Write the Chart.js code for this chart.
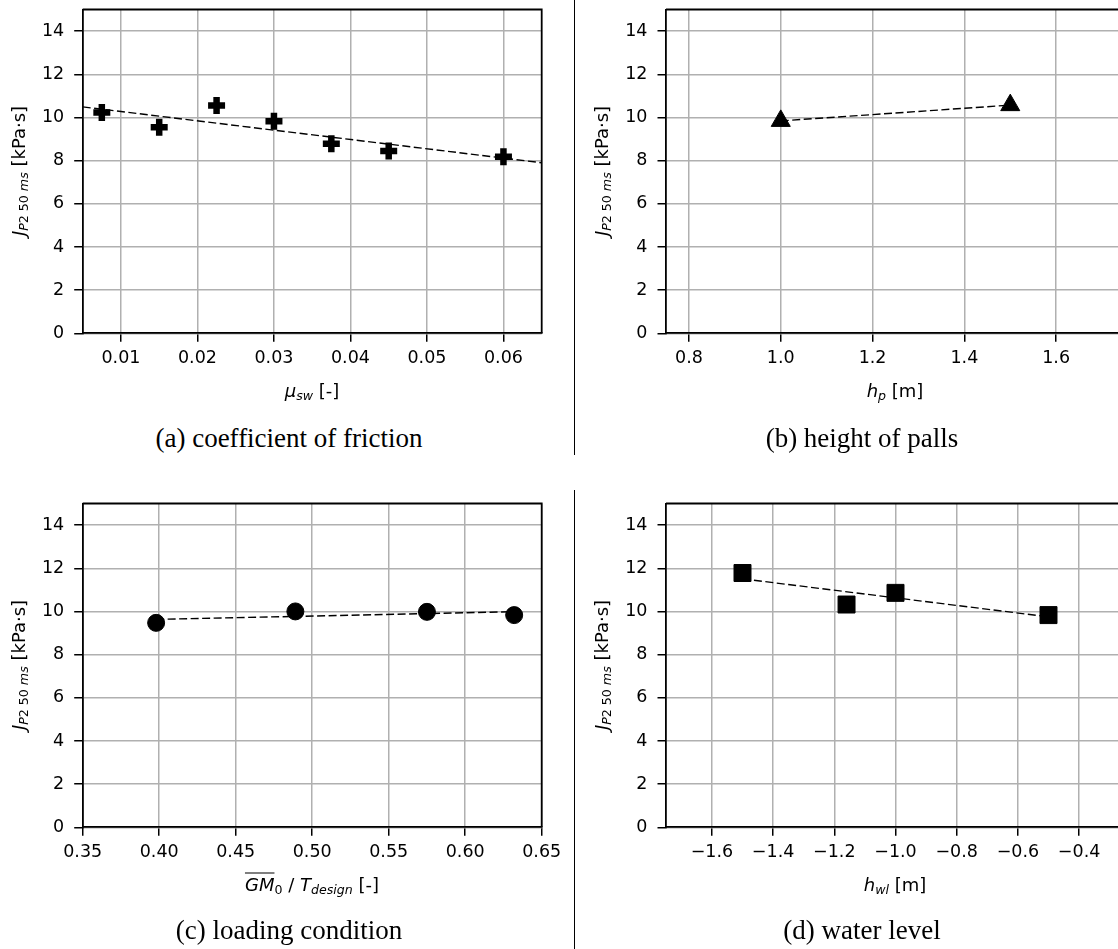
<!DOCTYPE html>
<html>
<head>
<meta charset="utf-8">
<script src="https://cdn.jsdelivr.net/npm/chart.js@4/dist/chart.umd.min.js"></script>
<style>
  html, body { margin: 0; padding: 0; background: #fff; }
  body { width: 1118px; height: 949px; overflow: hidden; position: relative; font-family: 'DejaVu Sans', sans-serif; }
  canvas { position: absolute; }
  .ytitle, .xtitle, .caption { position: absolute; white-space: nowrap; color: #000; }
  .ytitle { font-size: 18px; transform: translate(-50%, -50%) rotate(-90deg); }
  .xtitle { font-size: 18px; transform: translate(-50%, -50%); }
  .caption { font-family: 'Liberation Serif', serif; font-size: 27px; transform: translate(-50%, -50%); }
  sub { font-size: 70%; vertical-align: -0.3em; line-height: 0; }
  .sep { position: absolute; left: 574px; width: 1.3px; background: #000; }
  .ov { text-decoration: overline; }
</style>
</head>
<body>
<canvas id="ca" width="560" height="380" style="left:0;top:0"></canvas>
<canvas id="cb" width="600" height="380" style="left:560px;top:0"></canvas>
<canvas id="cc" width="560" height="380" style="left:0;top:494.4px"></canvas>
<canvas id="cd" width="600" height="380" style="left:560px;top:494.4px"></canvas>

<div class="sep" style="top:0;height:455px"></div>
<div class="sep" style="top:490px;height:459px"></div>

<div class="ytitle" style="left:18px;top:171px"><i>J</i><sub><i>P</i>2 50 <i>ms</i></sub> [kPa·s]</div>
<div class="ytitle" style="left:601px;top:171px"><i>J</i><sub><i>P</i>2 50 <i>ms</i></sub> [kPa·s]</div>
<div class="ytitle" style="left:18px;top:665px"><i>J</i><sub><i>P</i>2 50 <i>ms</i></sub> [kPa·s]</div>
<div class="ytitle" style="left:601px;top:665px"><i>J</i><sub><i>P</i>2 50 <i>ms</i></sub> [kPa·s]</div>

<div class="xtitle" style="left:312px;top:390px"><i>μ<sub>sw</sub></i> [-]</div>
<div class="xtitle" style="left:895px;top:390px"><i>h<sub>p</sub></i> [m]</div>
<div class="xtitle" style="left:312px;top:884px"><span class="ov"><i>GM</i></span><sub>0</sub> / <i>T<sub>design</sub></i> [-]</div>
<div class="xtitle" style="left:895px;top:884px"><i>h<sub>wl</sub></i> [m]</div>

<div class="caption" style="left:289px;top:438px">(a) coefficient of friction</div>
<div class="caption" style="left:862px;top:438px">(b) height of palls</div>
<div class="caption" style="left:289px;top:930px">(c) loading condition</div>
<div class="caption" style="left:862px;top:930px">(d) water level</div>

<script>
// shared y axis
const yTicks = [0, 2, 4, 6, 8, 10, 12, 14];

// (a) coefficient of friction
const fricX = [0.0075, 0.015, 0.0225, 0.03, 0.0375, 0.045, 0.06];
const fricY = [10.23, 9.55, 10.55, 9.82, 8.78, 8.45, 8.18];
const fricFitX = [0.005, 0.065];
const fricFitY = [10.49, 7.90];
const fricTicks = [0.01, 0.02, 0.03, 0.04, 0.05, 0.06];

// (b) height of palls
const pallX = [1.0, 1.5];
const pallY = [9.84, 10.57];
const pallFitX = [1.0, 1.5];
const pallFitY = [9.84, 10.57];
const pallTicks = [0.8, 1.0, 1.2, 1.4, 1.6];

// (c) loading condition
const loadX = [0.398, 0.489, 0.575, 0.632];
const loadY = [9.47, 10.0, 9.98, 9.83];
const loadFitX = [0.398, 0.632];
const loadFitY = [9.63, 9.99];
const loadTicks = [0.35, 0.40, 0.45, 0.50, 0.55, 0.60, 0.65];

// (d) water level
const waterX = [-1.5, -1.16, -1.0, -0.5];
const waterY = [11.78, 10.32, 10.86, 9.83];
const waterFitX = [-1.5, -0.5];
const waterFitY = [11.51, 9.75];
const waterTicks = [-1.6, -1.4, -1.2, -1.0, -0.8, -0.6, -0.4];

const pts = (xs, ys) => xs.map((x, i) => ({ x: x, y: ys[i] }));
const tickFont = { family: 'DejaVu Sans', size: 17.5 };

// no automatic label padding, so the plot box sits exactly where the axes are
function noPad(s) {
  s.paddingLeft = 0; s.paddingRight = 0; s.paddingTop = 0; s.paddingBottom = 0;
}

// top and right spines
const frame = {
  id: 'frame',
  afterDraw(chart) {
    const a = chart.chartArea, ctx = chart.ctx;
    ctx.save();
    ctx.strokeStyle = '#000';
    ctx.lineWidth = 1.8;
    ctx.beginPath();
    ctx.moveTo(a.left, a.top);
    ctx.lineTo(a.right, a.top);
    ctx.lineTo(a.right, a.bottom);
    ctx.stroke();
    ctx.restore();
  }
};

function panel(id, o) {
  const canvas = document.getElementById(id);
  return new Chart(canvas.getContext('2d'), {
    type: 'scatter',
    data: {
      datasets: [
        {
          data: pts(o.x, o.y),
          showLine: false,
          pointStyle: o.style,
          pointRadius: o.radius,
          pointBorderWidth: o.bw,
          backgroundColor: '#000',
          borderColor: '#000'
        },
        {
          data: pts(o.fitX, o.fitY),
          showLine: true,
          pointRadius: 0,
          borderColor: '#000',
          borderWidth: 1.4,
          borderDash: [8, 3.5]
        }
      ]
    },
    options: {
      responsive: false,
      devicePixelRatio: 1,
      animation: false,
      events: [],
      layout: { autoPadding: false, padding: { top: 9.5, right: o.padRight, left: 0, bottom: 0 } },
      plugins: { legend: { display: false }, tooltip: { enabled: false } },
      scales: {
        x: {
          type: 'linear',
          min: o.min,
          max: o.max,
          afterBuildTicks: axis => { axis.ticks = o.ticks.map(v => ({ value: v })); },
          afterFit: s => { s.height = 380 - 333.3; noPad(s); },
          ticks: {
            font: tickFont, color: '#000', padding: 6, maxRotation: 0, autoSkip: false,
            callback: v => (v < 0 ? '\u2212' : '') + Math.abs(v).toFixed(o.dec)
          },
          grid: { color: '#b0b0b0', lineWidth: 1.5, tickColor: '#000', tickLength: 8.5, tickWidth: 1.5 },
          border: { color: '#000', width: 1.8 }
        },
        y: {
          type: 'linear',
          min: 0,
          max: 15,
          afterBuildTicks: axis => { axis.ticks = yTicks.map(v => ({ value: v })); },
          afterFit: s => { s.width = o.yWidth; noPad(s); },
          ticks: { font: tickFont, color: '#000', padding: 10, callback: v => String(v) },
          grid: { color: '#b0b0b0', lineWidth: 1.5, tickColor: '#000', tickLength: 8.5, tickWidth: 1.5 },
          border: { color: '#000', width: 1.8 }
        }
      }
    },
    plugins: [frame]
  });
}

panel('ca', { x: fricX, y: fricY, fitX: fricFitX, fitY: fricFitY, ticks: fricTicks, min: 0.005, max: 0.065, dec: 2,
  style: 'cross', radius: 8.5, bw: 6.5, yWidth: 82.7, padRight: 18.3 });
panel('cb', { x: pallX, y: pallY, fitX: pallFitX, fitY: pallFitY, ticks: pallTicks, min: 0.75, max: 1.75, dec: 1,
  style: 'triangle', radius: 11, bw: 1, yWidth: 106, padRight: 35 });
panel('cc', { x: loadX, y: loadY, fitX: loadFitX, fitY: loadFitY, ticks: loadTicks, min: 0.35, max: 0.65, dec: 2,
  style: 'circle', radius: 8.5, bw: 1, yWidth: 82.7, padRight: 18.3 });
panel('cd', { x: waterX, y: waterY, fitX: waterFitX, fitY: waterFitY, ticks: waterTicks, min: -1.75, max: -0.25, dec: 1,
  style: 'rect', radius: 12, bw: 1, yWidth: 106, padRight: 35 });
</script>
</body>
</html>
